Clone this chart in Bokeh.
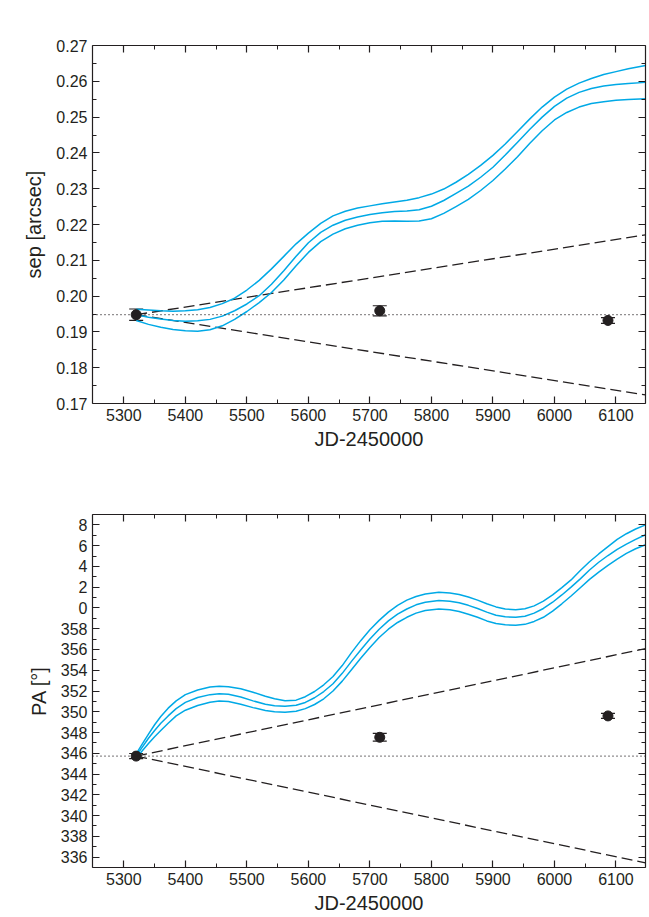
from bokeh.plotting import figure
from bokeh.layouts import column
from bokeh.models import (Range1d, FixedTicker, LinearAxis, Span, Whisker, TeeHead,
                          ColumnDataSource, NumeralTickFormatter, CustomJSTickFormatter)
from bokeh.embed import file_html
from bokeh.resources import INLINE

# ---------------- data ----------------
obs_x = [5320, 5716, 6087]
sep_obs = [0.1948, 0.1959, 0.1932]
sep_err = [0.0016, 0.0014, 0.0008]
pa_obs = [345.73, 347.54, 349.60]          # degrees (unwrapped: 360..368 shown as 0..8)
pa_err = [0.25, 0.37, 0.24]

# background-object cone (dashed) from first epoch to end of range
cone_x = [5320, 6148]
sep_cone_hi = [0.1948, 0.2171]
sep_cone_lo = [0.1948, 0.1724]
pa_cone_hi = [345.73, 356.08]
pa_cone_lo = [345.73, 335.45]

sep_ref = 0.1948
pa_ref = 345.73

# orbital-motion predictions (blue), separation
sep_curve_x = [5320, 5340, 5360, 5380, 5400, 5420, 5440, 5460, 5480, 5500, 5520, 5540,
               5560, 5580, 5600, 5620, 5640, 5660, 5680, 5700, 5720, 5740, 5760, 5780,
               5800, 5820, 5840, 5860, 5880, 5900, 5920, 5940, 5960, 5980, 6000, 6020,
               6040, 6060, 6080, 6100, 6120, 6148]
sep_upper = [0.1963, 0.1961, 0.1959, 0.1958, 0.1959, 0.1962, 0.1968, 0.1979, 0.1994,
             0.2017, 0.2044, 0.2076, 0.2111, 0.2146, 0.2176, 0.2203, 0.2224, 0.2237,
             0.2246, 0.2252, 0.2258, 0.2263, 0.2268, 0.2275, 0.2285, 0.2299, 0.2318,
             0.2340, 0.2365, 0.2393, 0.2425, 0.2460, 0.2495, 0.2528, 0.2556, 0.2578,
             0.2595, 0.2608, 0.2619, 0.2627, 0.2635, 0.2644]
sep_mid = [0.1948, 0.1941, 0.1936, 0.1932, 0.1930, 0.1931, 0.1935, 0.1944, 0.1959,
           0.1978, 0.2001, 0.2033, 0.2071, 0.2111, 0.2149, 0.2178, 0.2198, 0.2212,
           0.2221, 0.2228, 0.2233, 0.2236, 0.2238, 0.2241, 0.2251, 0.2267, 0.2287,
           0.2307, 0.2332, 0.2360, 0.2394, 0.2430, 0.2466, 0.2500, 0.2530, 0.2553,
           0.2569, 0.2580, 0.2587, 0.2591, 0.2594, 0.2597]
sep_lower = [0.1932, 0.1921, 0.1913, 0.1907, 0.1903, 0.1902, 0.1906, 0.1917, 0.1935,
             0.1957, 0.1982, 0.2010, 0.2045, 0.2085, 0.2122, 0.2152, 0.2173, 0.2188,
             0.2198, 0.2205, 0.2209, 0.2210, 0.2209, 0.2210, 0.2216, 0.2231, 0.2250,
             0.2270, 0.2295, 0.2323, 0.2355, 0.2389, 0.2427, 0.2462, 0.2492, 0.2513,
             0.2528, 0.2538, 0.2543, 0.2547, 0.2549, 0.2551]

# orbital-motion predictions (blue), position angle
pa_curve_x = [5320, 5330, 5340, 5350, 5360, 5372, 5385, 5400, 5420, 5440, 5455, 5470,
              5490, 5510, 5530, 5545, 5562, 5580, 5595, 5610, 5625, 5640, 5655, 5670,
              5685, 5700, 5715, 5730, 5745, 5760, 5775, 5790, 5812, 5830, 5845, 5860,
              5875, 5890, 5905, 5920, 5937, 5952, 5967, 5982, 5997, 6012, 6027, 6042,
              6057, 6072, 6087, 6102, 6117, 6132, 6148]
pa_upper = [345.95, 346.9, 347.85, 348.75, 349.55, 350.35, 351.05, 351.65, 352.1,
            352.38, 352.46, 352.42, 352.22, 351.88, 351.5, 351.25, 351.06, 351.12,
            351.45, 351.95, 352.6, 353.4, 354.45, 355.7, 356.85, 357.9, 358.8, 359.6,
            360.25, 360.75, 361.1, 361.35, 361.5, 361.45, 361.3, 361.05, 360.75, 360.4,
            360.1, 359.9, 359.83, 359.92, 360.2, 360.65, 361.25, 361.95, 362.7, 363.6,
            364.45, 365.2, 365.9, 366.6, 367.15, 367.6, 368.0]
pa_mid = [345.75, 346.6, 347.45, 348.2, 348.9, 349.6, 350.3, 350.9, 351.38, 351.65,
          351.73, 351.68, 351.42, 351.05, 350.72, 350.58, 350.52, 350.62, 350.9, 351.35,
          351.95, 352.7, 353.7, 354.85, 355.95, 357.0, 357.95, 358.75, 359.4, 359.9,
          360.3, 360.55, 360.72, 360.65, 360.5, 360.25, 359.95, 359.6, 359.3, 359.15,
          359.1, 359.2, 359.5, 359.95, 360.55, 361.25, 362.0, 362.8, 363.65, 364.4,
          365.05, 365.65, 366.15, 366.6, 367.05]
pa_lower = [345.55, 346.25, 346.95, 347.6, 348.2, 348.9, 349.6, 350.15, 350.6, 350.92,
            351.03, 350.98, 350.72, 350.4, 350.12, 350.0, 349.95, 350.05, 350.3, 350.7,
            351.25, 352.0, 352.95, 354.05, 355.15, 356.2, 357.15, 357.95, 358.6, 359.1,
            359.5, 359.75, 359.89, 359.82, 359.65, 359.4, 359.1, 358.75, 358.5, 358.37,
            358.34, 358.42, 358.7, 359.1, 359.7, 360.4, 361.15, 361.95, 362.75, 363.45,
            364.1, 364.7, 365.25, 365.7, 366.09]

# ticks
x_ticks = [5300, 5400, 5500, 5600, 5700, 5800, 5900, 6000, 6100]
x_minor = [5350, 5450, 5550, 5650, 5750, 5850, 5950, 6050]
sep_ticks = [0.17, 0.18, 0.19, 0.20, 0.21, 0.22, 0.23, 0.24, 0.25, 0.26, 0.27]
sep_minor = [0.175, 0.185, 0.195, 0.205, 0.215, 0.225, 0.235, 0.245, 0.255, 0.265]
pa_ticks = [336, 338, 340, 342, 344, 346, 348, 350, 352, 354, 356, 358, 360, 362,
            364, 366, 368]
pa_minor = [335, 337, 339, 341, 343, 345, 347, 349, 351, 353, 355, 357, 359, 361,
            363, 365, 367, 369]
pa_labels = {t: str(t % 360) for t in pa_ticks}

x_label = "JD-2450000"
sep_label = "sep [arcsec]"
pa_label = "PA [°]"

# ---------------- style ----------------
INK = "#231f20"
BLUE = "#00a9e6"
FONT = "Liberation Sans"
EMPTY = CustomJSTickFormatter(code="return ''")


def style_axis(ax):
    ax.axis_line_color = INK
    ax.axis_line_width = 1.2
    ax.major_tick_line_color = INK
    ax.minor_tick_line_color = INK
    ax.major_tick_line_width = 1.2
    ax.minor_tick_line_width = 1.0
    ax.major_tick_in = 7
    ax.major_tick_out = 0
    ax.minor_tick_in = 4
    ax.minor_tick_out = 0
    ax.major_label_text_font = FONT
    ax.major_label_text_font_size = "16px"
    ax.major_label_text_color = INK
    ax.axis_label_text_font = FONT
    ax.axis_label_text_font_size = "20px"
    ax.axis_label_text_font_style = "normal"
    ax.axis_label_text_color = INK


def panel(height, border_top, border_bottom, y_range, y_ticks, y_minor, y_label,
          obs_y, err, ref, cone_hi, cone_lo, cx, c_up, c_mid, c_lo, y_fmt=None,
          y_overrides=None, y_standoff=8):
    p = figure(width=649, height=height, x_range=Range1d(5249, 6148), y_range=y_range,
               output_backend="svg", toolbar_location=None,
               min_border_left=92, min_border_right=4,
               min_border_top=border_top, min_border_bottom=border_bottom,
               background_fill_color="white", border_fill_color="white",
               outline_line_color=None)
    p.xgrid.visible = False
    p.ygrid.visible = False

    xt = FixedTicker(ticks=x_ticks, minor_ticks=x_minor)
    yt = FixedTicker(ticks=y_ticks, minor_ticks=y_minor)

    xa = p.xaxis[0]
    xa.ticker = xt
    xa.axis_label = x_label
    style_axis(xa)
    xa.major_label_standoff = 5
    xa.axis_label_standoff = 4

    ya = p.yaxis[0]
    ya.ticker = yt
    ya.axis_label = y_label
    style_axis(ya)
    ya.major_label_standoff = 5
    ya.axis_label_standoff = y_standoff
    if y_fmt is not None:
        ya.formatter = y_fmt
    if y_overrides is not None:
        ya.major_label_overrides = y_overrides

    top = LinearAxis(ticker=xt, formatter=EMPTY, major_label_standoff=0)
    style_axis(top)
    p.add_layout(top, "above")
    right = LinearAxis(ticker=yt, formatter=EMPTY, major_label_standoff=0)
    style_axis(right)
    p.add_layout(right, "right")

    # reference dotted line and dashed cone
    p.add_layout(Span(location=ref, dimension="width", line_color=INK,
                      line_width=1.3, line_dash="1 3"))
    p.line(cone_x, cone_hi, line_color=INK, line_width=1.3, line_dash="11 5")
    p.line(cone_x, cone_lo, line_color=INK, line_width=1.3, line_dash="11 5")

    # orbit predictions
    for c in (c_up, c_mid, c_lo):
        p.line(cx, c, line_color=BLUE, line_width=1.5, line_join="round")

    # observations with error bars
    src = ColumnDataSource(dict(x=obs_x, y=obs_y,
                                lo=[v - e for v, e in zip(obs_y, err)],
                                hi=[v + e for v, e in zip(obs_y, err)]))
    w = Whisker(source=src, base="x", lower="lo", upper="hi", dimension="height",
                line_color=INK, line_width=1.2,
                upper_head=TeeHead(size=14, line_color=INK, line_width=1.2),
                lower_head=TeeHead(size=14, line_color=INK, line_width=1.2))
    p.add_layout(w)
    p.scatter("x", "y", source=src, marker="circle", size=10,
              fill_color=INK, line_color=INK)
    return p


p1 = panel(463, 45, 60, Range1d(0.17, 0.27), sep_ticks, sep_minor, sep_label,
           sep_obs, sep_err, sep_ref, sep_cone_hi, sep_cone_lo,
           sep_curve_x, sep_upper, sep_mid, sep_lower,
           y_fmt=NumeralTickFormatter(format="0.00"))

p2 = panel(453, 51, 47, Range1d(335, 369), pa_ticks, pa_minor, pa_label,
           pa_obs, pa_err, pa_ref, pa_cone_hi, pa_cone_lo,
           pa_curve_x, pa_upper, pa_mid, pa_lower,
           y_overrides=pa_labels)

layout = column(p1, p2)

open("out.html", "w").write(file_html(layout, INLINE))
